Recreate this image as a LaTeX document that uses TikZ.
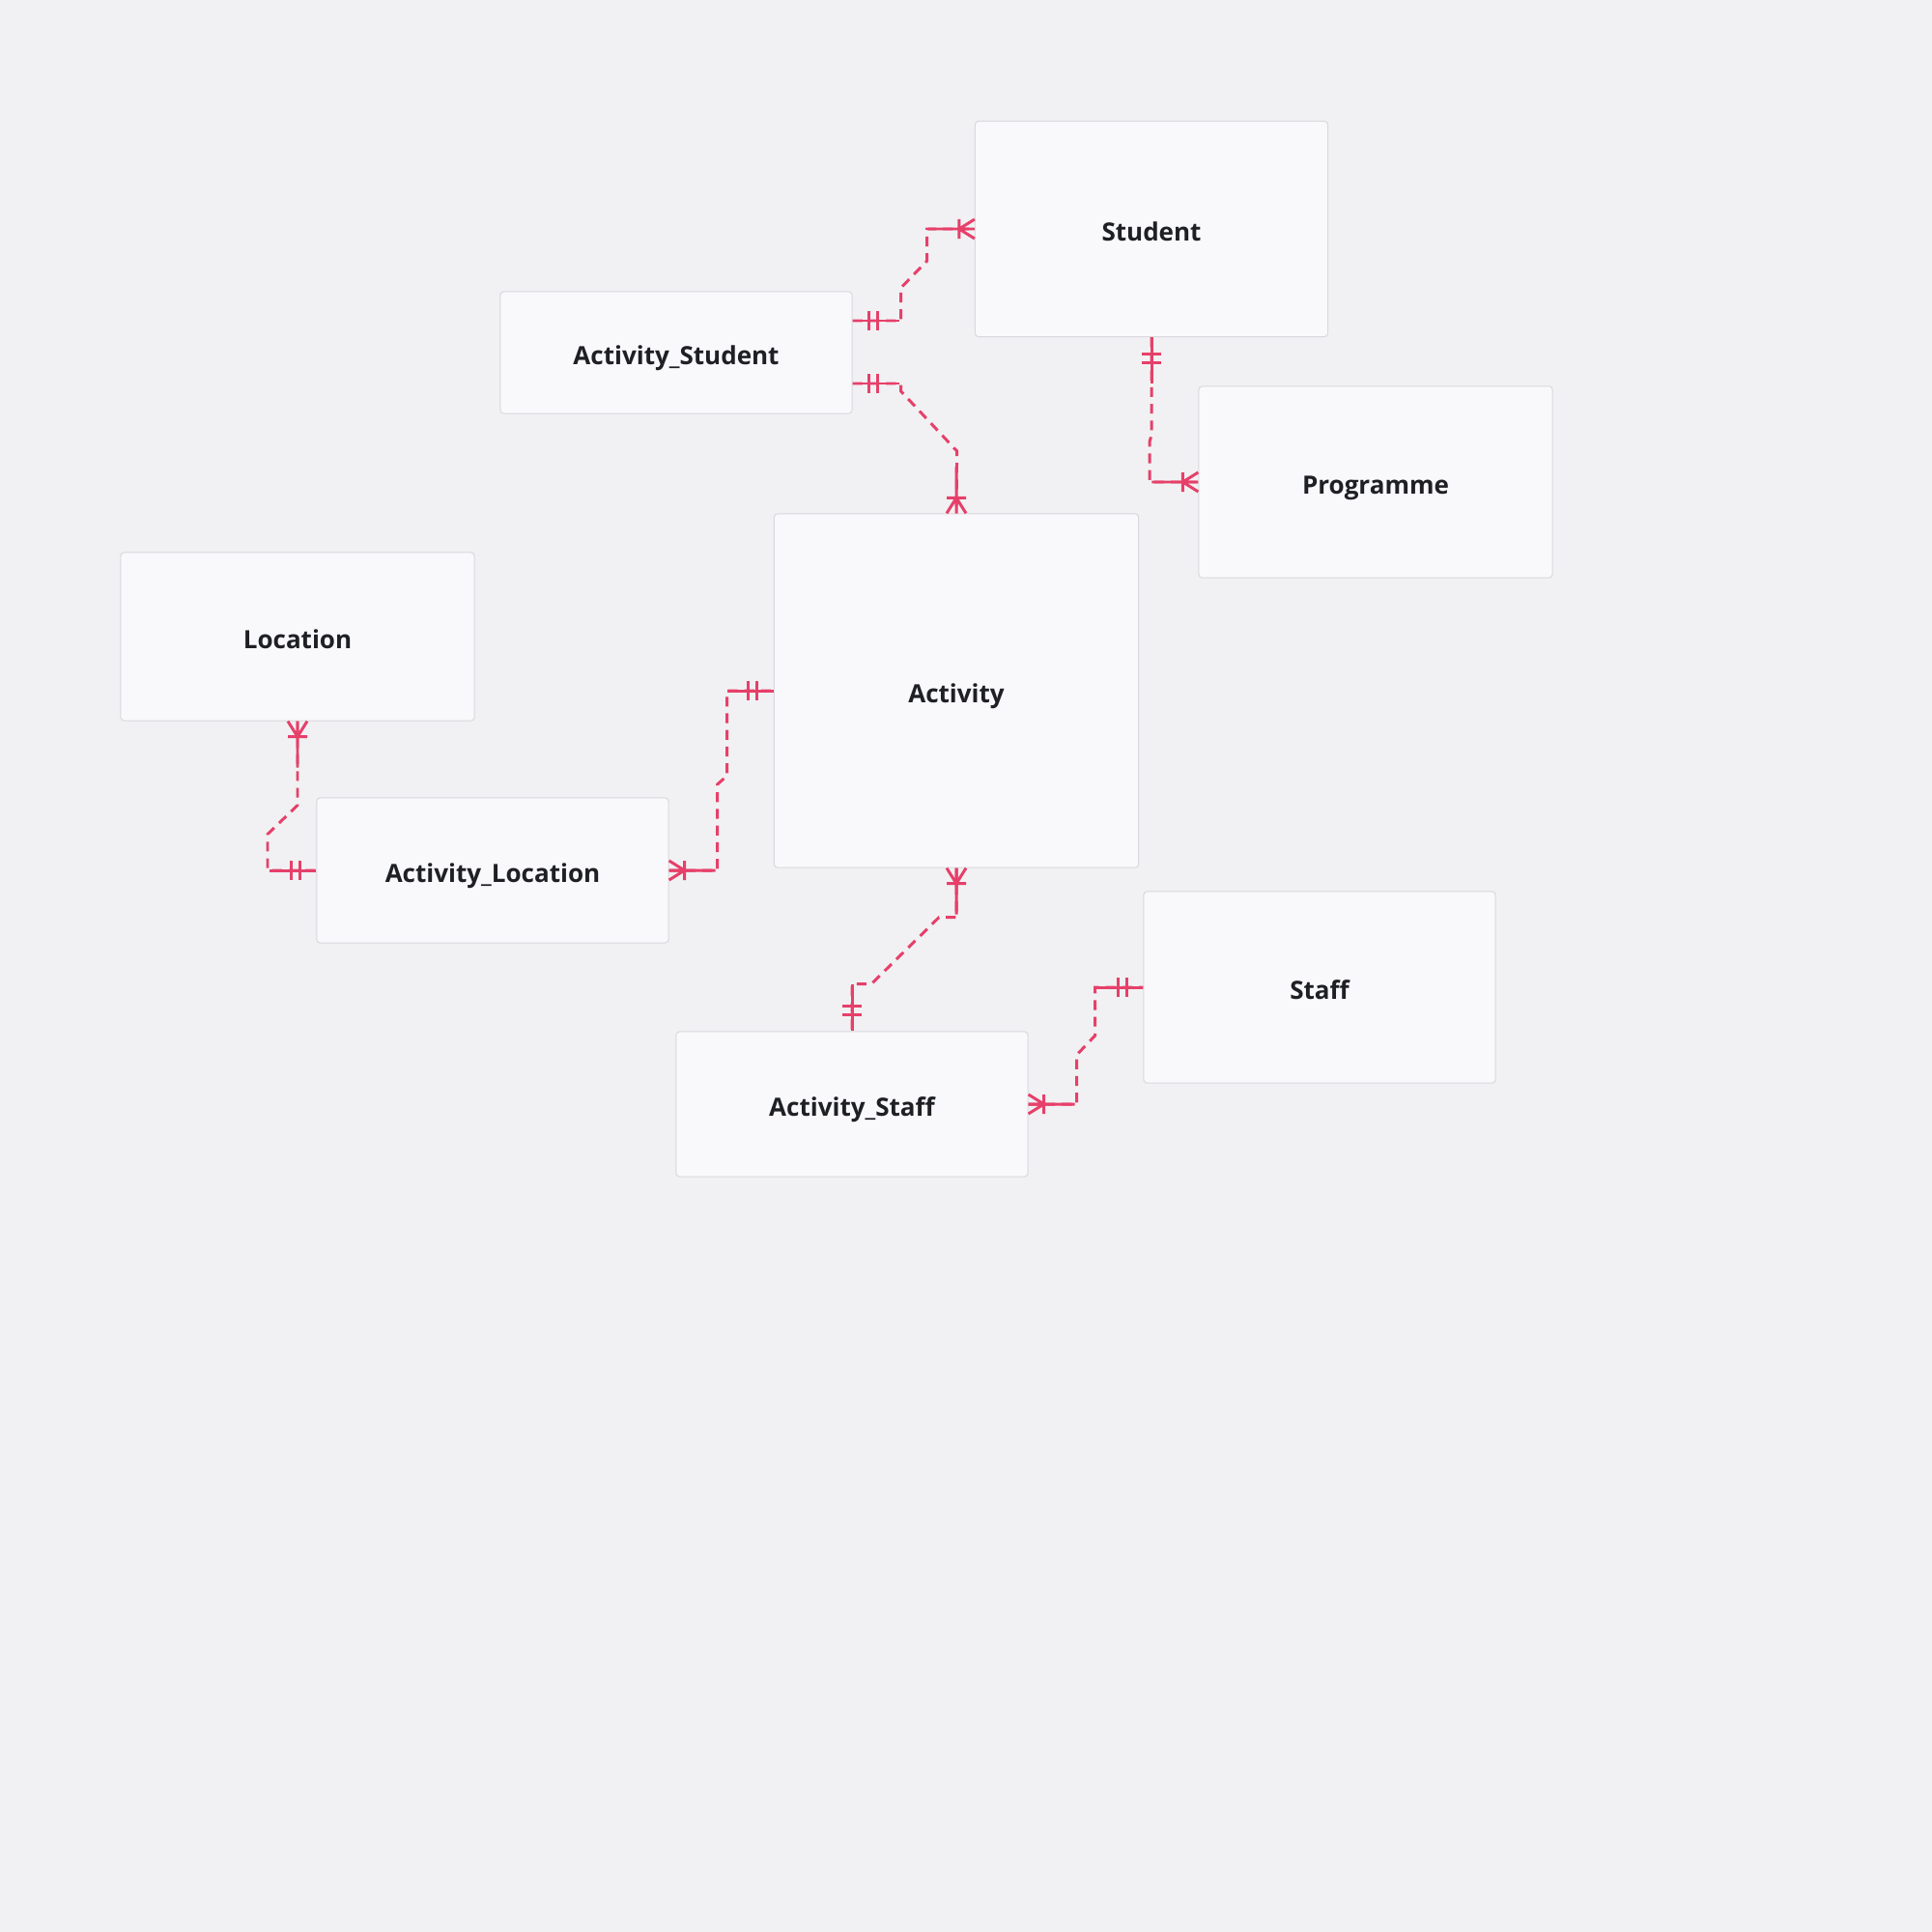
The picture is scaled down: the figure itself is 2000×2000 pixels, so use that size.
\documentclass[tikz,border=0pt]{standalone}
\usepackage{fontspec}
\setmainfont{Open Sans}
\usetikzlibrary{calc}

\definecolor{erbg}{HTML}{F1F1F3}
\definecolor{erfill}{HTML}{F9F9FB}
\definecolor{erborder}{HTML}{D9D9DE}
\definecolor{erline}{HTML}{E6406A}
\definecolor{ertext}{HTML}{1F2024}

\tikzset{
	entity/.style 2 args={draw=erborder, line width=0.3pt, fill=erfill,
		rounded corners=1pt, minimum width=#1cm, minimum height=#2cm,
		text=ertext, font=\fontsize{7.4}{9}\selectfont\bfseries,
		text height=1.35ex, text depth=0pt},
	rel/.style={draw=erline, line width=0.85pt, dash pattern=on 2.9pt off 2pt},
	relmark/.style={draw=erline, line width=0.85pt, solid},
	onlyone/.pic={\draw[relmark] (0,0) -- (48,0) (17,-10) -- (17,10) (26,-10) -- (26,10);},
	oneormore/.pic={\draw[relmark] (0,0) -- (48,0) (16,-10) -- (16,10) (0,-10) -- (16,0) -- (0,10);}
}

\begin{document}
\begin{tikzpicture}[x=0.01cm, y=-0.01cm]
	\fill[erbg] (0,0) rectangle (2000,2000);
	\useasboundingbox (0,0) rectangle (2000,2000);

	% entities
	\node[entity={3.65}{2.23}] (stu) at (1192,237) {Student};
	\node[entity={3.64}{1.26}] (as) at (700,365) {Activity\_Student};
	\node[entity={3.66}{1.98}] (prog) at (1424,499) {Programme};
	\node[entity={3.77}{3.66}] (act) at (990,715) {Activity};
	\node[entity={3.66}{1.74}] (loc) at (308,659) {Location};
	\node[entity={3.64}{1.50}] (al) at (510,901) {Activity\_Location};
	\node[entity={3.64}{1.98}] (staff) at (1366,1022) {Staff};
	\node[entity={3.64}{1.50}] (ast) at (882,1143) {Activity\_Staff};

	% relationships
	\draw[rel] ($(as.east)+(0,-33)$) -- ++(50,0) -- ++(0,-34) -- ++(27,-28) |- (stu.west);
	\draw[rel] ($(as.east)+(0,32)$) -- ++(50,0) -- ++(0,8) -- ++(58,62) -- (act.north);
	\draw[rel] (stu.south) -- ++(0,102) -- ++(-2,6) |- (prog.west);
	\draw[rel] (loc.south) -- ++(0,87) -- ++(-31,30) |- (al.west);
	\draw[rel] (al.east) -- ++(50,0) -- ++(0,-89) -- ++(10,-9) |- (act.west);
	\draw[rel] (act.south) -- ++(0,51) -- ++(-18,0) -- ++(-70,69) -| (ast.north);
	\draw[rel] (ast.east) -- ++(50,0) -- ++(0,-51) -- ++(19,-20) |- (staff.west);

	% cardinality marks
	\pic at ($(as.east)+(0,-33)$) {onlyone};
	\pic[rotate=180] at (stu.west) {oneormore};
	\pic at ($(as.east)+(0,32)$) {onlyone};
	\pic[rotate=90] at (act.north) {oneormore};
	\pic[rotate=-90] at (stu.south) {onlyone};
	\pic[rotate=180] at (prog.west) {oneormore};
	\pic[rotate=-90] at (loc.south) {oneormore};
	\pic[rotate=180] at (al.west) {onlyone};
	\pic at (al.east) {oneormore};
	\pic[rotate=180] at (act.west) {onlyone};
	\pic[rotate=-90] at (act.south) {oneormore};
	\pic[rotate=90] at (ast.north) {onlyone};
	\pic at (ast.east) {oneormore};
	\pic[rotate=180] at (staff.west) {onlyone};
\end{tikzpicture}
\end{document}
